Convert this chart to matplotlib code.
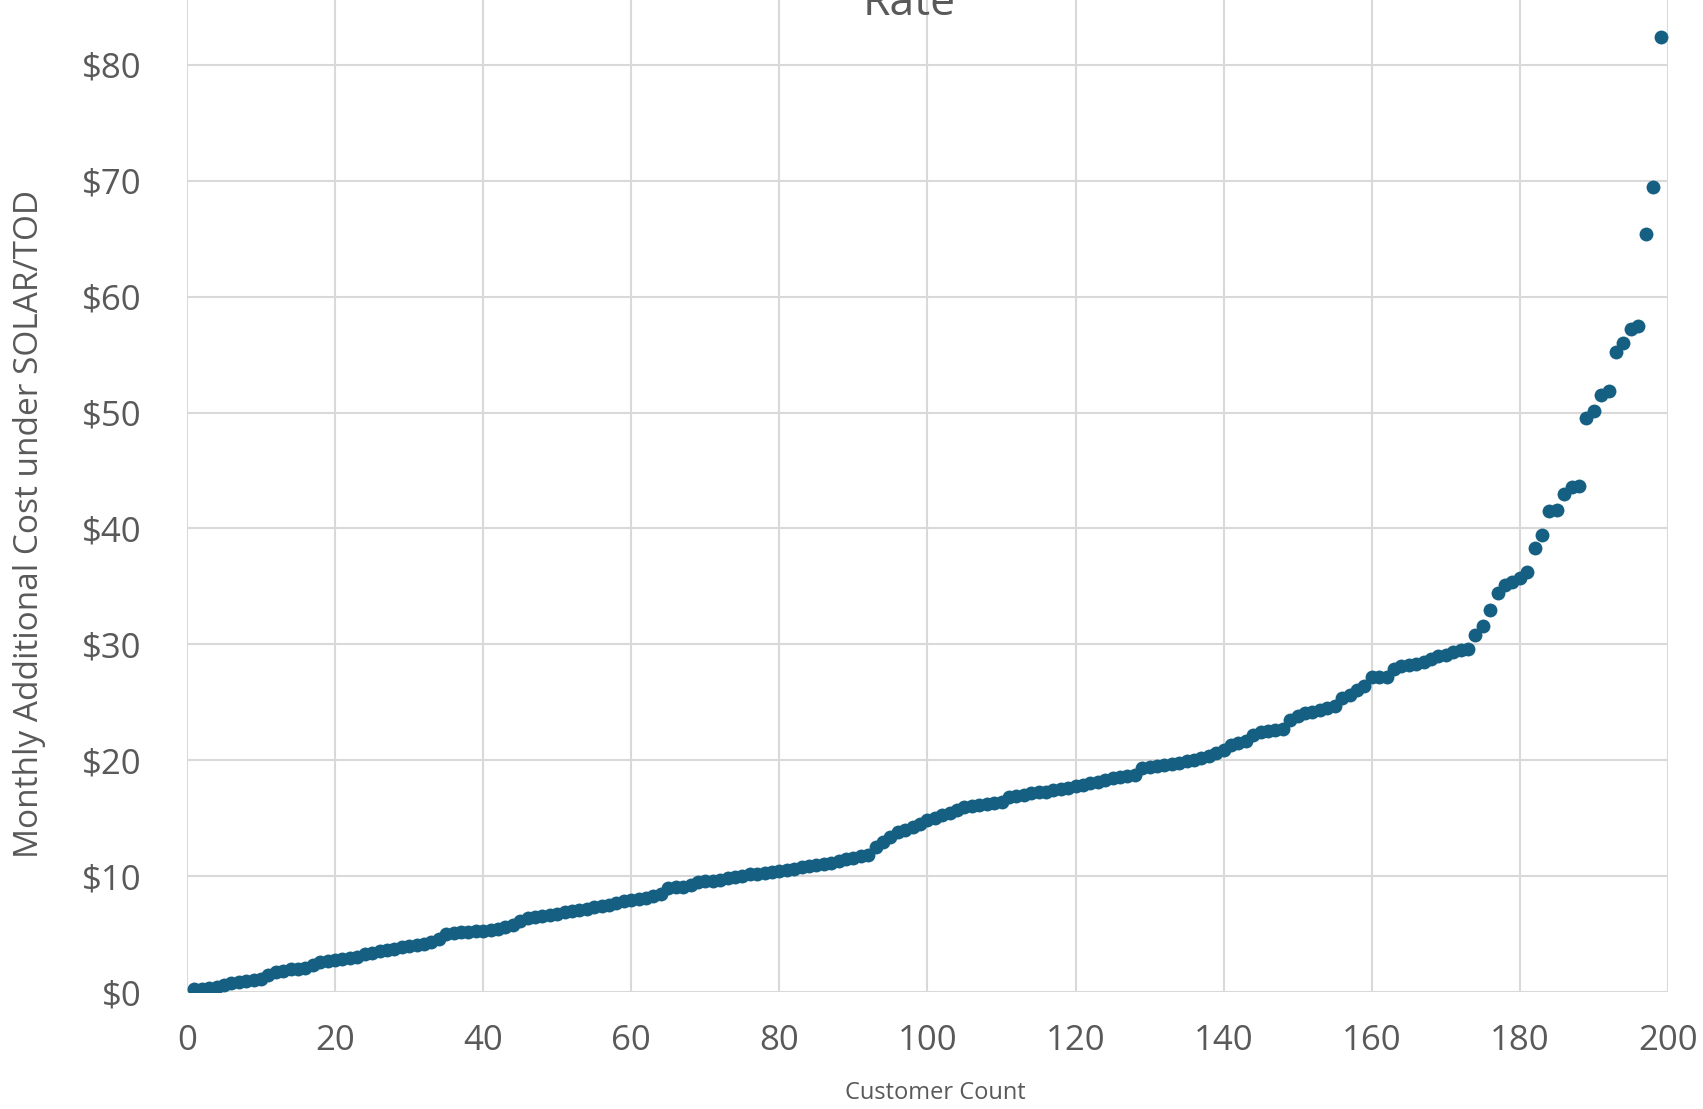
import matplotlib.pyplot as plt

# customer index (sorted) and additional monthly cost
customers = list(range(1, 200))
extra_cost = [
    0.25, 0.3, 0.35, 0.45, 0.6, 0.75, 0.9, 0.95, 1.0, 1.1,
    1.5, 1.75, 1.85, 1.95, 2.0, 2.1, 2.35, 2.6, 2.65, 2.75,
    2.85, 2.95, 3.05, 3.25, 3.35, 3.5, 3.65, 3.75, 3.85, 3.95,
    4.05, 4.15, 4.35, 4.6, 5.0, 5.1, 5.15, 5.2, 5.25, 5.3,
    5.35, 5.45, 5.6, 5.8, 6.15, 6.35, 6.45, 6.55, 6.65, 6.75,
    6.9, 7.0, 7.1, 7.2, 7.3, 7.45, 7.55, 7.7, 7.85, 7.95,
    8.05, 8.15, 8.3, 8.45, 8.95, 9.05, 9.1, 9.2, 9.5, 9.55,
    9.6, 9.7, 9.8, 9.95, 10.05, 10.15, 10.2, 10.3, 10.35, 10.4,
    10.5, 10.65, 10.75, 10.85, 10.95, 11.05, 11.15, 11.3, 11.45, 11.6,
    11.7, 11.8, 12.5, 12.95, 13.4, 13.8, 13.95, 14.2, 14.5, 14.8,
    15.05, 15.25, 15.45, 15.7, 16.0, 16.05, 16.1, 16.2, 16.3, 16.4,
    16.8, 16.9, 17.0, 17.15, 17.25, 17.3, 17.4, 17.5, 17.6, 17.75,
    17.85, 18.0, 18.15, 18.3, 18.45, 18.55, 18.65, 18.7, 19.3, 19.4,
    19.5, 19.6, 19.7, 19.8, 19.9, 20.0, 20.2, 20.4, 20.6, 20.9,
    21.3, 21.5, 21.7, 22.2, 22.4, 22.5, 22.6, 22.7, 23.5, 23.8,
    24.1, 24.2, 24.3, 24.5, 24.7, 25.4, 25.6, 26.1, 26.4, 27.2,
    27.2, 27.2, 27.9, 28.1, 28.2, 28.3, 28.5, 28.7, 29.0, 29.1,
    29.3, 29.5, 29.6, 30.8, 31.6, 33.0, 34.4, 35.1, 35.4, 35.7,
    36.2, 38.3, 39.4, 41.5, 41.6, 43.0, 43.6, 43.7, 49.5, 50.1,
    51.5, 51.9, 55.2, 56.0, 57.2, 57.5, 65.4, 69.5, 82.4,
]

x_ticks = [0, 20, 40, 60, 80, 100, 120, 140, 160, 180, 200]
y_ticks = [0, 10, 20, 30, 40, 50, 60, 70, 80]
y_tick_labels = ["$" + str(v) for v in y_ticks]

plt.rcParams["font.family"] = ["Open Sans", "DejaVu Sans"]
grey = "#595959"

fig = plt.figure(figsize=(17.03, 11.09), dpi=100)
ax = fig.add_axes([0.1098, 0.1055, 0.8696, 0.8945])

ax.scatter(customers, extra_cost, s=100, color="#156082", zorder=3, linewidths=0)

ax.set_xlim(0, 200)
ax.set_ylim(0, 85.6)
ax.set_xticks(x_ticks)
ax.set_yticks(y_ticks)
ax.set_yticklabels(y_tick_labels)
ax.grid(True, color="#d9d9d9", linewidth=1.5)
ax.set_axisbelow(True)
for s in ax.spines.values():
    s.set_visible(False)
ax.tick_params(axis="both", length=0, labelsize=25, labelcolor=grey)
ax.tick_params(axis="x", pad=23)
ax.tick_params(axis="y", pad=33)

fig.text(0.0175, 0.5275, "Monthly Additional Cost under SOLAR/TOD", rotation=90,
         ha="center", va="center", fontsize=24, color=grey)
fig.text(0.549, 0.0144, "Customer Count", ha="center", va="center",
         fontsize=17, color=grey)
fig.text(0.534, 0.9865, "Rate", ha="center", va="baseline", fontsize=32, color=grey)

fig.savefig("out.png", dpi=100)
